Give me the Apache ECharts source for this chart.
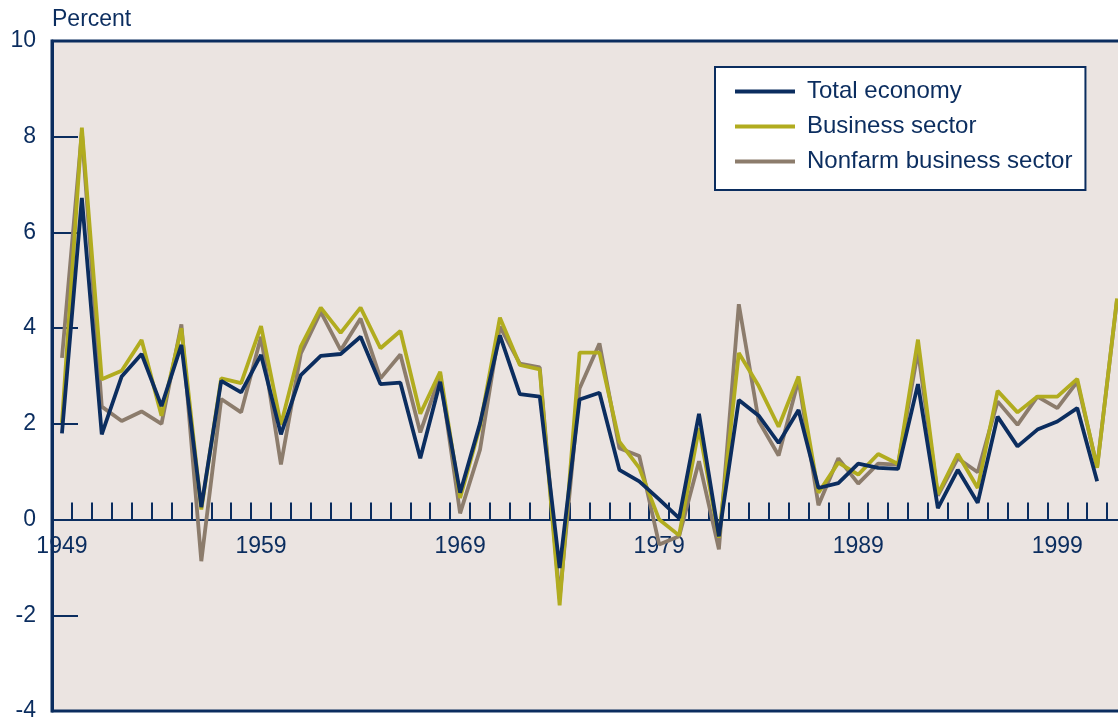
<!DOCTYPE html>
<html>
<head>
<meta charset="utf-8">
<script src="https://cdn.jsdelivr.net/npm/echarts@6/dist/echarts.min.js"></script>
<style>
  html, body { margin: 0; padding: 0; background: #fff; }
  #chart { width: 1118px; height: 721px; }
</style>
</head>
<body>
<div id="chart"></div>
<script>
var years = [];
for (var y = 1949; y <= 2002; y++) years.push(String(y));

// percent change
var totalEconomy = [1.8, 6.72, 1.78, 2.99, 3.46, 2.37, 3.65, 0.26, 2.9, 2.66,
  3.44, 1.78, 3.02, 3.42, 3.46, 3.82, 2.83, 2.86, 1.28, 2.88,
  0.56, 2.01, 3.85, 2.62, 2.57, -1.01, 2.51, 2.65, 1.04, 0.8,
  0.42, 0.03, 2.21, -0.35, 2.5, 2.17, 1.6, 2.29, 0.66, 0.76,
  1.17, 1.08, 1.06, 2.83, 0.24, 1.04, 0.35, 2.15, 1.53, 1.88,
  2.05, 2.33, 0.8, null];
var businessSector = [2.02, 8.19, 2.93, 3.11, 3.75, 2.17, 4.0, 0.21, 2.95, 2.85,
  4.04, 1.98, 3.62, 4.43, 3.9, 4.43, 3.58, 3.94, 2.21, 3.09,
  0.45, 1.95, 4.22, 3.23, 3.14, -1.79, 3.49, 3.49, 1.63, 1.08,
  0.0, -0.33, 1.91, -0.38, 3.48, 2.79, 1.94, 2.99, 0.56, 1.19,
  0.94, 1.37, 1.16, 3.76, 0.53, 1.37, 0.66, 2.69, 2.24, 2.57,
  2.57, 2.94, 1.08, 4.62];
var nonfarmSector = [3.38, 8.1, 2.36, 2.06, 2.26, 2.0, 4.08, -0.87, 2.52, 2.24,
  3.82, 1.15, 3.47, 4.34, 3.54, 4.2, 2.95, 3.45, 1.82, 3.02,
  0.13, 1.46, 4.03, 3.26, 3.18, -1.65, 2.74, 3.68, 1.49, 1.33,
  -0.52, -0.35, 1.22, -0.62, 4.5, 2.06, 1.34, 2.92, 0.3, 1.28,
  0.75, 1.17, 1.15, 3.52, 0.5, 1.28, 0.99, 2.47, 1.98, 2.57,
  2.33, 2.88, 1.1, 4.6];

var yMin = -4, yMax = 10;
var navy = '#0b2d5f';
var olive = '#b1ac1f';
var taupe = '#8c7c6c';
var font = '"Liberation Sans", Arial, sans-serif';

var gridTop = 41, gridBottom = 10;
var gridHeight = 721 - gridTop - gridBottom;
// pull the category axis up from the bottom edge to the zero line
var zeroOffset = -gridHeight * (0 - yMin) / (yMax - yMin);

var chart = echarts.init(document.getElementById('chart'));
var option = {
  animation: false,
  backgroundColor: '#ffffff',
  textStyle: { fontFamily: font },
  title: {
    text: 'Percent',
    left: 47,
    top: 3,
    textStyle: { color: navy, fontSize: 23, fontWeight: 'normal', fontFamily: font }
  },
  grid: {
    left: 52,
    top: gridTop,
    bottom: gridBottom,
    right: -9,
    outerBoundsMode: 'none',
    containLabel: false,
    show: true,
    backgroundColor: '#ebe4e1',
    borderColor: navy,
    borderWidth: 3
  },
  legend: {
    data: ['Total economy', 'Business sector', 'Nonfarm business sector'],
    orient: 'vertical',
    left: 715,
    top: 67,
    padding: [12, 13, 16, 20],
    backgroundColor: '#ffffff',
    borderColor: navy,
    borderWidth: 2,
    itemWidth: 60,
    itemHeight: 4,
    itemGap: 10,
    icon: 'rect',
    textStyle: { color: navy, fontSize: 24, fontFamily: font, padding: [0, 0, 0, 7], lineHeight: 25 }
  },
  xAxis: {
    type: 'category',
    data: years,
    boundaryGap: true,
    position: 'bottom',
    offset: zeroOffset,
    z: 1,
    axisLine: { show: true, onZero: false, lineStyle: { color: navy, width: 2 } },
    axisTick: { show: true, inside: true, length: 17, interval: 0, lineStyle: { color: navy, width: 2 } },
    axisLabel: { show: true, interval: 9, color: navy, fontSize: 23, margin: 16, fontFamily: font },
    splitLine: { show: false }
  },
  yAxis: {
    type: 'value',
    min: yMin,
    max: yMax,
    interval: 2,
    axisLine: { show: true, lineStyle: { color: navy, width: 3 } },
    axisTick: { show: true, inside: true, length: 26, lineStyle: { color: navy, width: 2 } },
    axisLabel: { color: navy, fontSize: 23, margin: 16, fontFamily: font },
    splitLine: { show: false }
  },
  series: [
    {
      name: 'Total economy', type: 'line', data: totalEconomy,
      showSymbol: false, symbol: 'none', z: 5,
      lineStyle: { color: navy, width: 3.8 }, itemStyle: { color: navy }
    },
    {
      name: 'Business sector', type: 'line', data: businessSector,
      showSymbol: false, symbol: 'none', z: 4,
      lineStyle: { color: olive, width: 3.8 }, itemStyle: { color: olive }
    },
    {
      name: 'Nonfarm business sector', type: 'line', data: nonfarmSector,
      showSymbol: false, symbol: 'none', z: 3,
      lineStyle: { color: taupe, width: 3.8 }, itemStyle: { color: taupe }
    }
  ]
};
chart.setOption(option);
</script>
</body>
</html>
